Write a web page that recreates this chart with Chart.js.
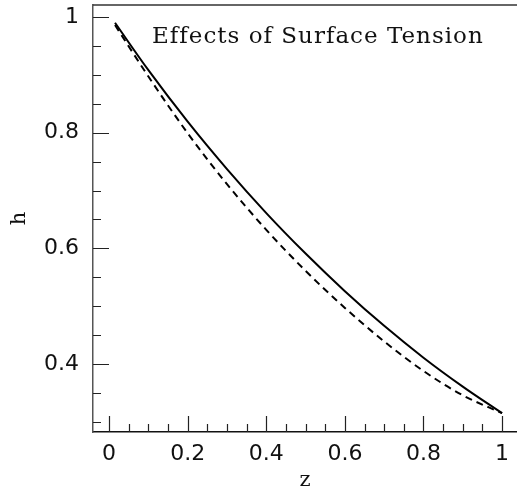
<!DOCTYPE html>
<html>
<head>
<meta charset="utf-8">
<title>Effects of Surface Tension</title>
<script src="https://cdn.jsdelivr.net/npm/chart.js@4.4.1/dist/chart.umd.min.js"></script>
<style>
  html, body { margin: 0; padding: 0; background: #fff; }
  #chart-container { width: 517px; height: 493px; position: relative; }
</style>
</head>
<body>
<div id="chart-container"><canvas id="surface-chart"></canvas></div>
<script>
// Curve samples (z along the axis, h height)
const zValues = [0.015, 0.1, 0.2, 0.3, 0.4, 0.5, 0.6, 0.7, 0.8, 0.9, 1.0];
const hSolid = [0.990, 0.908, 0.819, 0.737, 0.661, 0.591, 0.526, 0.466, 0.411, 0.361, 0.315];
const hDashed = [0.986, 0.897, 0.799, 0.711, 0.632, 0.561, 0.497, 0.439, 0.388, 0.346, 0.315];

// Tick marks and labels
const xMajorTicks = [0, 0.2, 0.4, 0.6, 0.8, 1];
const xTickLabels = ['0', '0.2', '0.4', '0.6', '0.8', '1'];
const xMinorTicks = [0.05, 0.1, 0.15, 0.25, 0.3, 0.35, 0.45, 0.5, 0.55, 0.65, 0.7, 0.75, 0.85, 0.9, 0.95];
const yMajorTicks = [0.4, 0.6, 0.8, 1];
const yTickLabels = ['0.4', '0.6', '0.8', '1'];
const yMinorTicks = [0.3, 0.35, 0.45, 0.5, 0.55, 0.65, 0.7, 0.75, 0.85, 0.9, 0.95];

const titleText = 'Effects of Surface Tension';

function toPoints(xs, ys) {
  return xs.map((x, i) => ({ x: x, y: ys[i] }));
}

// Inward tick marks, top frame line and the in-plot title
const frameTicksPlugin = {
  id: 'frameTicks',
  afterDraw(chart) {
    const { ctx, chartArea, scales } = chart;
    const x = scales.x;
    const y = scales.y;
    ctx.save();
    ctx.strokeStyle = '#222';
    ctx.lineWidth = 1.2;
    ctx.beginPath();
    xMajorTicks.forEach(v => {
      const px = Math.round(x.getPixelForValue(v)) + 0.5;
      ctx.moveTo(px, chartArea.bottom);
      ctx.lineTo(px, chartArea.bottom - 16);
    });
    xMinorTicks.forEach(v => {
      const px = Math.round(x.getPixelForValue(v)) + 0.5;
      ctx.moveTo(px, chartArea.bottom);
      ctx.lineTo(px, chartArea.bottom - 8);
    });
    yMajorTicks.forEach(v => {
      const py = Math.round(y.getPixelForValue(v)) + 0.5;
      ctx.moveTo(chartArea.left, py);
      ctx.lineTo(chartArea.left + 16, py);
    });
    yMinorTicks.forEach(v => {
      const py = Math.round(y.getPixelForValue(v)) + 0.5;
      ctx.moveTo(chartArea.left, py);
      ctx.lineTo(chartArea.left + 8, py);
    });
    ctx.stroke();

    // top frame
    ctx.strokeStyle = '#333';
    ctx.lineWidth = 1.5;
    ctx.beginPath();
    ctx.moveTo(chartArea.left, chartArea.top);
    ctx.lineTo(chartArea.right, chartArea.top);
    ctx.stroke();

    // title inside the plot
    ctx.fillStyle = '#111';
    ctx.font = '23px "DejaVu Serif"';
    if ('letterSpacing' in ctx) ctx.letterSpacing = '1px';
    ctx.textAlign = 'left';
    ctx.textBaseline = 'alphabetic';
    ctx.fillText(titleText, 152, 43);
    ctx.restore();
  }
};

const ctx = document.getElementById('surface-chart').getContext('2d');

new Chart(ctx, {
  type: 'line',
  data: {
    datasets: [
      {
        label: 'solid',
        data: toPoints(zValues, hSolid),
        borderColor: '#000',
        borderWidth: 2,
        pointRadius: 0,
        cubicInterpolationMode: 'monotone',
        fill: false
      },
      {
        label: 'dashed',
        data: toPoints(zValues, hDashed),
        borderColor: '#000',
        borderWidth: 2,
        borderDash: [7, 5],
        pointRadius: 0,
        cubicInterpolationMode: 'monotone',
        fill: false
      }
    ]
  },
  options: {
    responsive: true,
    maintainAspectRatio: false,
    animation: false,
    layout: {
      padding: { top: 5, right: 0, bottom: 0, left: 0 }
    },
    plugins: {
      legend: { display: false },
      tooltip: { enabled: false }
    },
    scales: {
      x: {
        type: 'linear',
        min: -0.041,
        max: 1.038,
        afterBuildTicks: scale => {
          scale.ticks = xMajorTicks.map(v => ({ value: v }));
        },
        afterFit: scale => {
          scale.height = 61;
          scale.paddingLeft = 0;
          scale.paddingRight = 0;
        },
        grid: { display: false, drawTicks: false },
        border: { display: true, color: '#111', width: 1.5 },
        ticks: {
          autoSkip: false,
          maxRotation: 0,
          padding: 9,
          color: '#111',
          font: { family: '"DejaVu Sans"', size: 22 },
          callback: (value, index) => xTickLabels[index]
        },
        title: {
          display: true,
          text: 'z',
          color: '#111',
          padding: { top: 0, bottom: 0 },
          font: { family: '"DejaVu Serif"', size: 21 }
        }
      },
      y: {
        type: 'linear',
        min: 0.2825,
        max: 1.0207,
        afterBuildTicks: scale => {
          scale.ticks = yMajorTicks.map(v => ({ value: v }));
        },
        afterFit: scale => {
          scale.width = 93;
          scale.paddingTop = 0;
          scale.paddingBottom = 0;
        },
        grid: { display: false, drawTicks: false },
        border: { display: true, color: '#555', width: 1.5 },
        ticks: {
          autoSkip: false,
          padding: 14,
          color: '#111',
          font: { family: '"DejaVu Sans"', size: 22 },
          callback: (value, index) => yTickLabels[index]
        },
        title: {
          display: true,
          text: 'h',
          color: '#111',
          padding: { top: 7, bottom: 0 },
          font: { family: '"DejaVu Serif"', size: 21 }
        }
      }
    }
  },
  plugins: [frameTicksPlugin]
});
</script>
</body>
</html>
